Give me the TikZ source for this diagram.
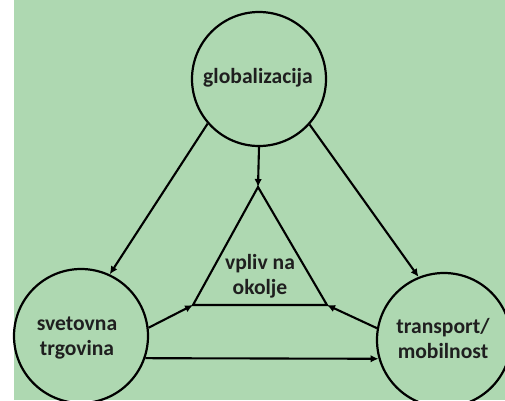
\documentclass[tikz,border=0pt]{standalone}
\usepackage{fontspec}
\setmainfont{Carlito}
\usetikzlibrary{arrows.meta}
\definecolor{bggreen}{RGB}{174,216,177}
\tikzset{
  ring/.style={circle, draw=black, line width=2.2pt, minimum size=134pt, inner sep=0pt},
  lbl/.style={align=center, font=\fontsize{21.6}{25}\selectfont\bfseries, text=black!88},
  conn/.style={line width=2.1pt, -{Latex[length=8pt,width=7.5pt]}},
  edge/.style={line width=2.1pt},
}
\begin{document}
\begin{tikzpicture}[x=1pt,y=-1pt]
\useasboundingbox (0,0) rectangle (505,400);
\fill[white] (0,0) rectangle (14,400);
\fill[bggreen] (14,0) rectangle (505,400);
\begin{scope}
\clip (0,0) rectangle (505,400);
\node[ring] (G) at (259,79) {};
\node[ring] (S) at (81,336) {};
\node[ring] (T) at (444,340) {};
\node[lbl] (Gt) at (258,78) {globalizacija};
\node[lbl] (St) at (77,338) {svetovna\\trgovina};
\node[lbl] (Tt) at (443,338) {transport/\\mobilnost};
\coordinate (A) at (258,187);
\coordinate (B) at (193,305);
\coordinate (C) at (327,305);
\draw[edge, line join=miter] (A) -- (B) -- (C) -- cycle;
\node[lbl] (Vt) at (260,276) {vpliv na\\okolje};
\draw[conn] (G.south) -- (A);
\draw[conn] (G.221) -- (S.65);
\draw[conn] (G.318) -- (T.112);
\draw[conn] (S.7) -- (B);
\draw[conn] (T.170) -- (C);
\draw[conn] (S.-19) -- (T.196);
\end{scope}
\end{tikzpicture}
\end{document}
